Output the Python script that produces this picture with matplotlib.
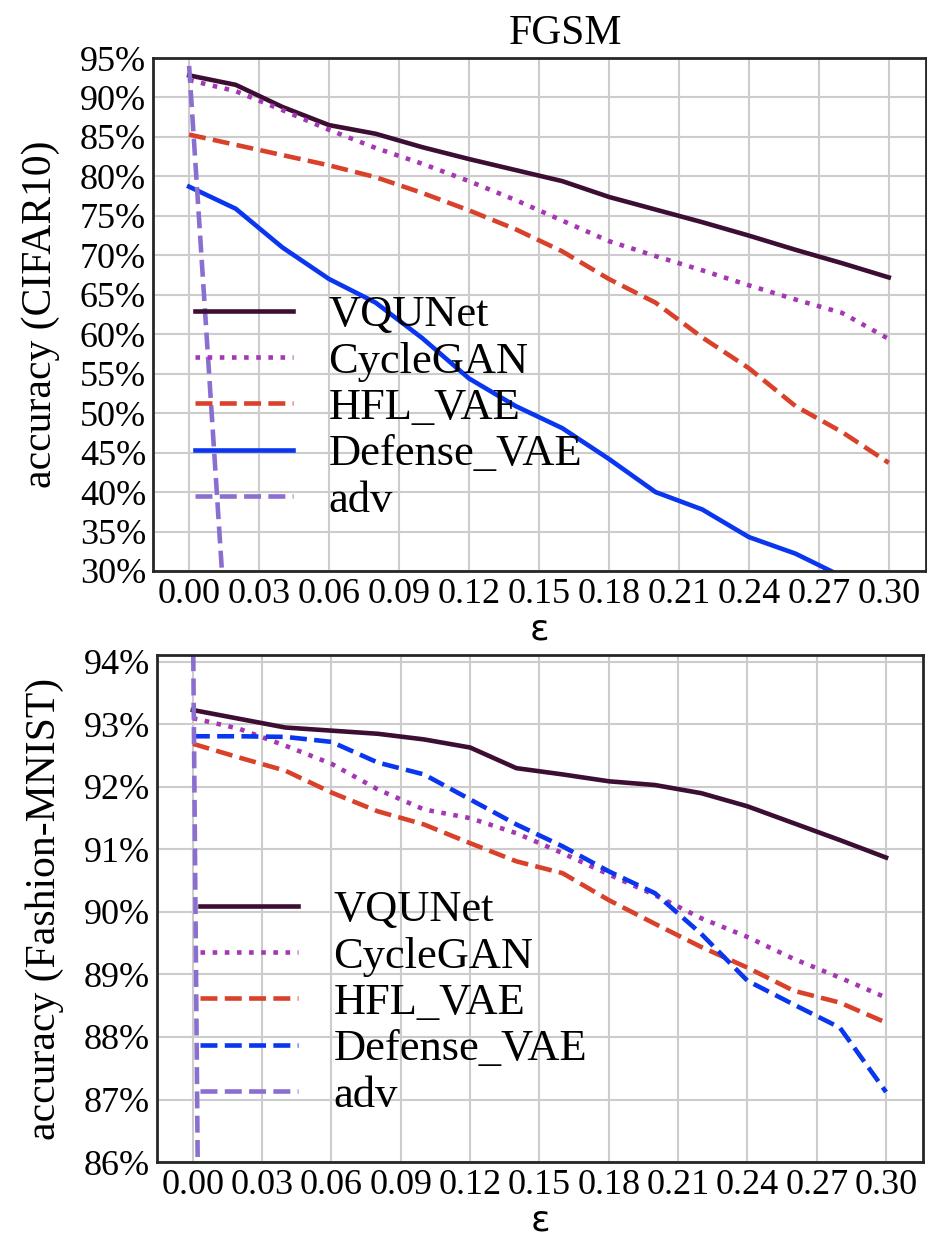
import numpy as np
import matplotlib.pyplot as plt
from matplotlib.ticker import FuncFormatter

eps = [0.00, 0.02, 0.04, 0.06, 0.08, 0.10, 0.12, 0.14,
       0.16, 0.18, 0.20, 0.22, 0.24, 0.26, 0.28, 0.30]
xticks = [0.00, 0.03, 0.06, 0.09, 0.12, 0.15, 0.18, 0.21, 0.24, 0.27, 0.30]

# CIFAR10 accuracy (%)
vqunet_c = [92.8, 91.6, 88.8, 86.5, 85.4, 83.7, 82.2, 80.8,
            79.4, 77.4, 75.8, 74.2, 72.5, 70.7, 69.0, 67.2]
cyclegan_c = [92.2, 90.8, 88.4, 85.9, 83.6, 81.6, 79.4, 77.0,
              74.4, 71.8, 69.9, 68.1, 66.2, 64.4, 62.7, 59.4]
hfl_c = [85.3, 84.0, 82.7, 81.4, 79.9, 77.9, 75.7, 73.3,
         70.5, 67.0, 64.0, 59.6, 55.7, 50.9, 47.6, 43.7]
defense_c = [78.7, 75.9, 71.0, 67.0, 64.0, 59.5, 54.4, 50.9,
             48.1, 44.2, 40.0, 37.8, 34.3, 32.2, 29.3, 27.0]
adv_c = [94.0, 3.0, 1.8, 1.2, 1.0, 0.8, 0.7, 0.6,
         0.5, 0.5, 0.4, 0.4, 0.3, 0.3, 0.3, 0.3]

# Fashion-MNIST accuracy (%)
vqunet_f = [93.23, 93.09, 92.95, 92.90, 92.85, 92.76, 92.63, 92.30,
            92.20, 92.09, 92.03, 91.90, 91.69, 91.42, 91.15, 90.87]
cyclegan_f = [93.10, 92.93, 92.66, 92.37, 91.96, 91.64, 91.50, 91.26,
              90.94, 90.60, 90.27, 89.90, 89.60, 89.25, 88.95, 88.63]
hfl_f = [92.69, 92.47, 92.26, 91.91, 91.61, 91.40, 91.10, 90.81,
         90.62, 90.19, 89.81, 89.44, 89.11, 88.74, 88.55, 88.23]
defense_f = [92.81, 92.81, 92.80, 92.72, 92.39, 92.20, 91.80, 91.40,
             91.05, 90.65, 90.30, 89.65, 88.90, 88.52, 88.15, 87.12]
adv_f = [94.9, 10.0, 6.0, 4.5, 3.5, 3.0, 2.5, 2.2,
         2.0, 1.8, 1.6, 1.5, 1.4, 1.3, 1.2, 1.1]

c_vq = '#3d0e33'
c_cg = '#a537b3'
c_hfl = '#d9412b'
c_def = '#0a36f0'
c_adv = '#8b6fd0'

plt.rcParams['font.family'] = 'Liberation Serif'

fig = plt.figure(figsize=(9.27, 12.37), dpi=100)
ax1 = fig.add_axes([0.165, 0.5384, 0.834, 0.4147])
ax2 = fig.add_axes([0.1694, 0.0606, 0.8263, 0.4099])


def style(ax):
    ax.grid(True, color='#cccccc', linewidth=1.5)
    ax.set_axisbelow(True)
    for s in ax.spines.values():
        s.set_color('#262626')
        s.set_linewidth(2.0)
    ax.tick_params(length=0, labelsize=26, pad=5)
    ax.set_xticks(xticks)
    ax.xaxis.set_major_formatter(FuncFormatter(lambda v, p: f'{v:.2f}'))
    ax.yaxis.set_major_formatter(FuncFormatter(lambda v, p: f'{v:.0f}%'))
    ax.set_xlim(-0.0155, 0.316)
    ax.set_xlabel('ε', family='DejaVu Sans', fontsize=26, labelpad=1)


lw = 3.3
ax1.plot(eps, vqunet_c, color=c_vq, lw=lw, label='VQUNet')
ax1.plot(eps, cyclegan_c, color=c_cg, lw=lw, ls=':', label='CycleGAN')
ax1.plot(eps, hfl_c, color=c_hfl, lw=lw, ls='--', label='HFL_VAE')
ax1.plot(eps, defense_c, color=c_def, lw=lw, label='Defense_VAE')
ax1.plot(eps, adv_c, color=c_adv, lw=lw, ls='--', label='adv')
style(ax1)
ax1.set_ylim(30, 95)
ax1.set_yticks(np.arange(30, 96, 5))
ax1.set_ylabel('accuracy (CIFAR10)', fontsize=30, labelpad=14)
ax1.set_title('FGSM', fontsize=30, pad=10, x=0.534)
ax1.legend(loc='center left', bbox_to_anchor=(0.003, 0.318), frameon=False,
           fontsize=32, labelspacing=0.14, handlelength=2.2, handletextpad=0.8)

ax2.plot(eps, vqunet_f, color=c_vq, lw=lw, label='VQUNet')
ax2.plot(eps, cyclegan_f, color=c_cg, lw=lw, ls=':', label='CycleGAN')
ax2.plot(eps, hfl_f, color=c_hfl, lw=lw, ls='--', label='HFL_VAE')
ax2.plot(eps, defense_f, color=c_def, lw=lw, ls='--', label='Defense_VAE')
ax2.plot(eps, adv_f, color=c_adv, lw=lw, ls='--', label='adv')
style(ax2)
ax2.set_ylim(86, 94.11)
ax2.set_yticks(np.arange(86, 95, 1))
ax2.set_ylabel('accuracy (Fashion-MNIST)', fontsize=30, labelpad=14)
ax2.legend(loc='center left', bbox_to_anchor=(0.004, 0.314), frameon=False,
           fontsize=32, labelspacing=0.14, handlelength=2.2, handletextpad=0.8)

fig.savefig('out.png', dpi=100)
